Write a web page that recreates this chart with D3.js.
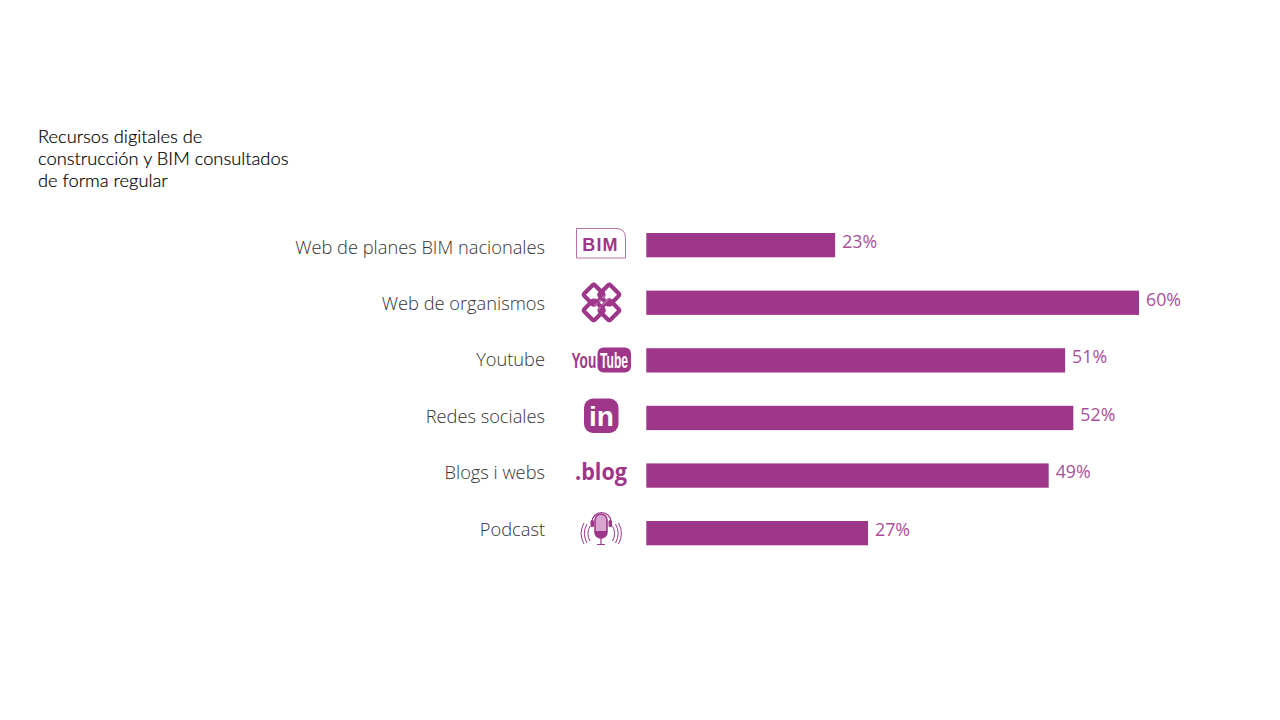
<!DOCTYPE html>
<html><head><meta charset="utf-8">
<script src="https://cdn.jsdelivr.net/npm/d3@7"></script>
<style>html,body{margin:0;background:#fff}svg{display:block}</style></head>
<body><svg id="c" width="1280" height="720"></svg>
<script>
const categories=["Web de planes BIM nacionales","Web de organismos","Youtube","Redes sociales","Blogs i webs","Podcast"];
const values=[23,60,51,52,49,27];
const titleLines=["Recursos digitales de","construcción y BIM consultados","de forma regular"];
const iconKeys=["bim","knot","youtube","linkedin","blog","podcast"];
const purple="#9e3689";
const svg=d3.select("#c");
const x=d3.scaleLinear().domain([0,60]).range([646.3,1139]);
const yBar=d3.scalePoint().domain(categories).range([233,521]);
const yLabel=d3.scalePoint().domain(categories).range([253.5,535.5]);
const bh=24.3;
svg.append("g").selectAll("text").data(titleLines).join("text")
 .attr("x",38).attr("y",(d,i)=>143+i*22.2)
 .attr("font-family","Lato").attr("font-weight",300).attr("font-size",18.3).attr("fill","#000").attr("stroke","#000").attr("stroke-width",0.2).text(d=>d);
svg.append("g").selectAll("rect").data(values).join("rect")
 .attr("x",x(0)).attr("y",(d,i)=>yBar(categories[i])).attr("width",d=>x(d)-x(0)).attr("height",bh).attr("fill",purple);
svg.append("g").selectAll("text").data(values).join("text")
 .attr("x",d=>x(d)+7).attr("y",(d,i)=>yBar(categories[i])+15)
 .attr("font-family","Open Sans").attr("font-size",17.8).attr("fill","#a9509a").text(d=>d+"%");
svg.append("g").selectAll("text").data(categories).join("text")
 .attr("x",545).attr("y",d=>yLabel(d)).attr("text-anchor","end")
 .attr("font-family","Open Sans").attr("font-weight",300).attr("font-size",18.25).attr("fill","#333").text(d=>d);
const icons={
 bim(g){
  g.append("path").attr("d","M576.500 228.500H616Q625.500 228.500 625.500 238V258H576.500Z").attr("fill","none").attr("stroke","#b873ab").attr("stroke-width",1);
  g.append("text").attr("x",600.500).attr("y",250.500).attr("text-anchor","middle").attr("font-family","Liberation Sans").attr("font-weight",700).attr("font-size",18).attr("letter-spacing",1.200).attr("fill",purple).text("BIM");
 },
 knot(g){
  const c=g.append("g").attr("transform","translate(601.500,302.500) rotate(45)").attr("fill","none").attr("stroke",purple);
  [[-11,0],[11,0],[0,-11],[0,11]].forEach(p=>{
   c.append("rect").attr("x",p[0]-7.500).attr("y",p[1]-7.500).attr("width",15).attr("height",15).attr("rx",2).attr("stroke-width",4.200);
  });
  [-2.500,2.500].forEach(o=>{
   c.append("path").attr("d",`M${o} -7V7`).attr("stroke","#b868a8").attr("stroke-width",2);
   c.append("path").attr("d",`M-7 ${o}H7`).attr("stroke",purple).attr("stroke-width",2);
  });
 },
 youtube(g){
  g.append("text").attr("transform","translate(571.500,367.500) scale(0.62,1)").attr("font-family","Liberation Sans").attr("font-weight",700).attr("font-size",22).attr("fill",purple).text("You");
  g.append("rect").attr("x",597.500).attr("y",347.500).attr("width",33.500).attr("height",25).attr("rx",6).attr("fill",purple);
  g.append("text").attr("transform","translate(600,367.500) scale(0.55,1)").attr("font-family","Liberation Sans").attr("font-weight",700).attr("font-size",22).attr("fill","#fff").text("Tube");
 },
 linkedin(g){
  g.append("rect").attr("x",584).attr("y",398.500).attr("width",34.500).attr("height",34.500).attr("rx",9).attr("fill",purple);
  g.append("text").attr("x",601.500).attr("y",425.500).attr("text-anchor","middle").attr("font-family","Liberation Sans").attr("font-weight",700).attr("font-size",28).attr("fill","#fff").text("in");
 },
 blog(g){
  g.append("text").attr("x",575).attr("y",480).attr("font-family","Open Sans").attr("font-weight",700).attr("font-size",23).attr("textLength",52).attr("lengthAdjust","spacingAndGlyphs").attr("fill",purple).text(".blog");
 },
 podcast(g){
  g.append("rect").attr("x",595).attr("y",514).attr("width",12).attr("height",24).attr("rx",6).attr("fill","#d9a5cf").attr("stroke",purple).attr("stroke-width",1.600);
  g.append("path").attr("d","M595 531H607V532A6 6 0 0 1 595 532Z").attr("fill",purple);
  g.append("path").attr("d","M592 524V522A9.500 9.500 0 0 1 611 522V524").attr("fill","none").attr("stroke",purple).attr("stroke-width",1.200);
  g.append("rect").attr("x",590.500).attr("y",520).attr("width",3.500).attr("height",7).attr("rx",1.500).attr("fill",purple);
  g.append("rect").attr("x",608.500).attr("y",520).attr("width",3.500).attr("height",7).attr("rx",1.500).attr("fill",purple);
  g.append("path").attr("d","M601 538V544.500M597 544.500H605").attr("fill","none").attr("stroke",purple).attr("stroke-width",1.200);
  [[590,526,541],[587,524,543],[584,523,544]].forEach(a=>{
   const q=(a[2]-a[1])*0.28;
   g.append("path").attr("d",`M${a[0]} ${a[1]}Q${a[0]-q} ${(a[1]+a[2])/2} ${a[0]} ${a[2]}`).attr("fill","none").attr("stroke",purple).attr("stroke-width",1);
   const r=1202.500-a[0];
   g.append("path").attr("d",`M${r} ${a[1]}Q${r+q} ${(a[1]+a[2])/2} ${r} ${a[2]}`).attr("fill","none").attr("stroke",purple).attr("stroke-width",1);
  });
 }
};
iconKeys.forEach(k=>icons[k](svg.append("g").attr("class","icon-"+k)));
</script></body></html>
